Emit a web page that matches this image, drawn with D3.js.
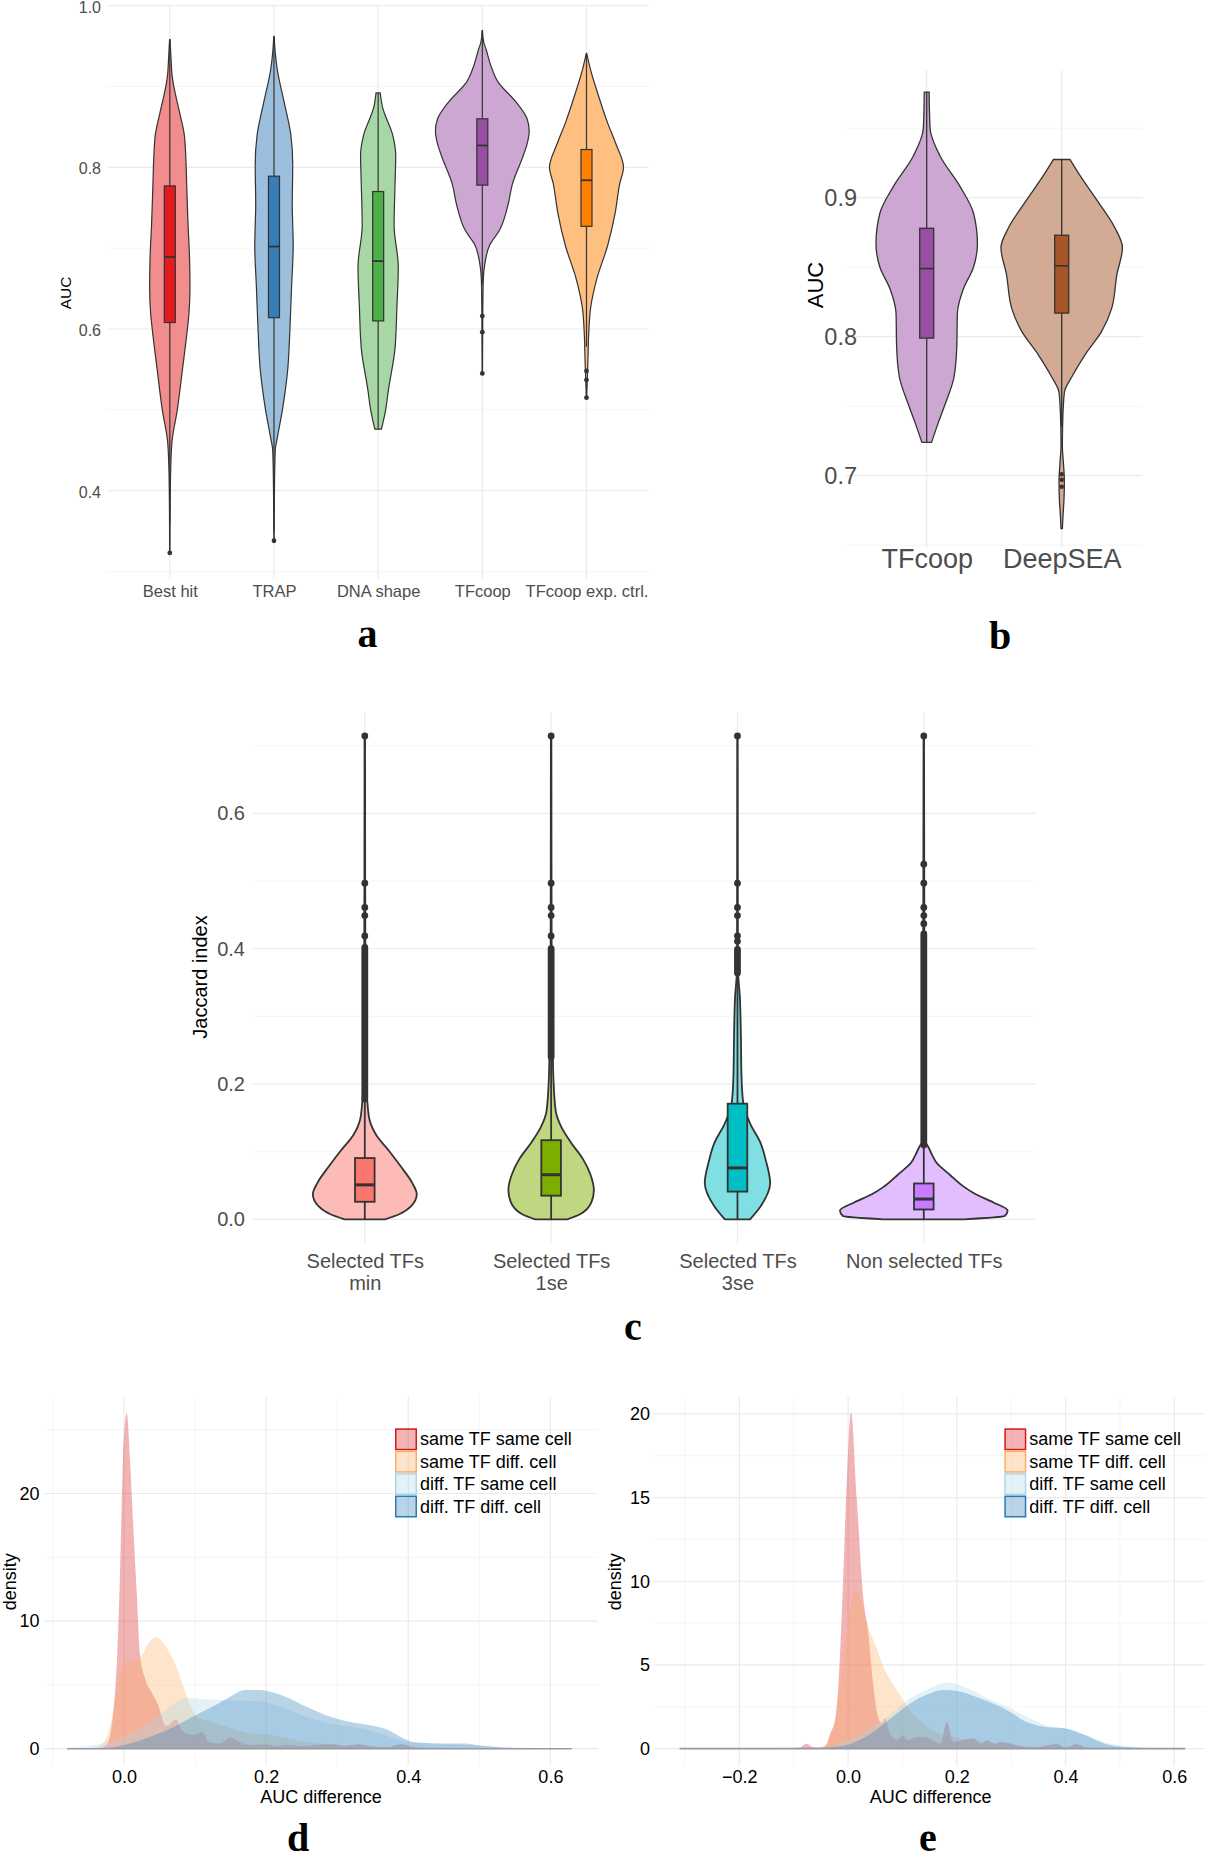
<!DOCTYPE html>
<html><head><meta charset="utf-8">
<script src="https://cdn.jsdelivr.net/npm/d3@7"></script>
<style>body{margin:0;background:#fff}svg{display:block}</style>
</head><body>
<script>
// ---------------- DATA ----------------
// Panel a
const catsA = ["Best hit","TRAP","DNA shape","TFcoop","TFcoop exp. ctrl."];
const colorsA = ["#E41A1C","#377EB8","#4DAF4A","#984EA3","#FF7F00"];
const ticksA = [0.4,0.6,0.8,1.0];
const minorA = [0.3,0.5,0.7,0.9];
// violin profiles: [AUC, relative density]
const violinBestHit = [[0.958,0.005],[0.93,0.03],[0.916,0.045],[0.905,0.07],[0.875,0.18],[0.84,0.31],[0.814,0.34],[0.779,0.36],[0.728,0.39],[0.69,0.42],[0.652,0.43],[0.62,0.41],[0.60,0.375],[0.55,0.27],[0.50,0.16],[0.46,0.045],[0.424,0.018],[0.38,0.008],[0.323,0.004]];
const violinTRAP = [[0.962,0.004],[0.94,0.03],[0.921,0.07],[0.88,0.22],[0.84,0.36],[0.804,0.40],[0.754,0.39],[0.703,0.41],[0.652,0.375],[0.60,0.34],[0.551,0.295],[0.50,0.18],[0.465,0.07],[0.45,0.027],[0.40,0.01],[0.338,0.004]];
const violinDNAshape = [[0.892,0.045],[0.875,0.09],[0.84,0.31],[0.815,0.375],[0.779,0.36],[0.728,0.34],[0.677,0.43],[0.627,0.40],[0.576,0.36],[0.525,0.22],[0.50,0.16],[0.476,0.07]];
const violinTFcoopA = [[0.969,0.004],[0.955,0.03],[0.946,0.08],[0.926,0.18],[0.906,0.33],[0.88,0.73],[0.86,0.955],[0.845,1.0],[0.83,0.96],[0.814,0.87],[0.779,0.64],[0.754,0.55],[0.723,0.375],[0.703,0.15],[0.683,0.06],[0.66,0.02],[0.62,0.01],[0.545,0.004]];
const violinExpCtrl = [[0.941,0.004],[0.92,0.09],[0.895,0.22],[0.855,0.45],[0.83,0.62],[0.80,0.79],[0.78,0.71],[0.743,0.61],[0.703,0.45],[0.662,0.22],[0.627,0.09],[0.591,0.045],[0.56,0.03],[0.515,0.004]];
// boxes: [lower whisker, q1, median, q3, upper whisker]
const boxesA = [[0.36,0.608,0.689,0.777,0.958],[0.35,0.614,0.702,0.789,0.962],[0.476,0.61,0.684,0.77,0.892],[0.655,0.778,0.827,0.86,0.969],[0.578,0.727,0.784,0.822,0.941]];
const outliersA = [[0.323],[0.338],[],[0.616,0.596,0.545],[0.548,0.537,0.515]];

// Panel b
const catsB = ["TFcoop","DeepSEA"];
const colorsB = ["#984EA3","#A65628"];
const ticksB = [0.7,0.8,0.9];
const minorB = [0.65,0.75,0.85,0.95];
const violinTFcoopB = [[0.976,0.04],[0.95,0.055],[0.93,0.22],[0.908,0.55],[0.889,0.77],[0.867,0.835],[0.85,0.77],[0.834,0.60],[0.817,0.505],[0.793,0.495],[0.771,0.45],[0.751,0.30],[0.738,0.19],[0.724,0.08]];
const violinDeepSEA = [[0.9275,0.137],[0.916,0.30],[0.897,0.60],[0.878,0.88],[0.864,1.0],[0.845,0.91],[0.82,0.82],[0.804,0.66],[0.787,0.385],[0.771,0.165],[0.76,0.044],[0.738,0.016],[0.721,0.011],[0.71,0.027],[0.696,0.044],[0.683,0.038],[0.67,0.02],[0.662,0.011]];
const boxesB = [[0.724,0.799,0.849,0.878,0.976],[0.735,0.817,0.851,0.873,0.9275]];
const outliersB = [[],[0.701,0.697,0.692]];

// Panel c
const catsC = ["Selected TFs\nmin","Selected TFs\n1se","Selected TFs\n3se","Non selected TFs"];
const colorsC = ["#F8766D","#7CAE00","#00BFC4","#C77CFF"];
const ticksC = [0.0,0.2,0.4,0.6];
const minorC = [0.1,0.3,0.5,0.7];
const violinMin = [[0.7146,0.003],[0.2,0.01],[0.177,0.028],[0.148,0.055],[0.124,0.14],[0.101,0.29],[0.078,0.43],[0.054,0.565],[0.037,0.62],[0.019,0.55],[0.0076,0.41],[0,0.24]];
const violin1se = [[0.7146,0.003],[0.3,0.008],[0.241,0.02],[0.206,0.028],[0.16,0.055],[0.136,0.124],[0.113,0.24],[0.089,0.38],[0.066,0.47],[0.043,0.51],[0.025,0.48],[0.0076,0.345],[0,0.19]];
const violin3se = [[0.7146,0.003],[0.4,0.005],[0.364,0.008],[0.33,0.028],[0.27,0.041],[0.212,0.048],[0.171,0.07],[0.142,0.15],[0.113,0.275],[0.084,0.345],[0.054,0.39],[0.019,0.275],[0,0.15]];
const violinNonSel = [[0.7146,0.003],[0.115,0.01],[0.11,0.04],[0.095,0.10],[0.084,0.15],[0.066,0.31],[0.048,0.48],[0.037,0.62],[0.025,0.83],[0.013,1.0],[0.005,0.965],[0,0.48]];
const boxesC = [[0,0.026,0.051,0.0906,0.178],[0,0.035,0.066,0.117,0.24],[0,0.041,0.076,0.171,0.364],[0,0.0146,0.03,0.053,0.11]];
const denseOutliersC = [[0.178,0.402],[0.24,0.40],[0.364,0.399],[0.11,0.422]];
const outliersC = [[0.419,0.449,0.461,0.497,0.7146],[0.419,0.449,0.461,0.497,0.7146],[0.411,0.419,0.449,0.461,0.497,0.7146],[0.437,0.449,0.461,0.497,0.525,0.7146]];

// Panels d and e
const legendLabels = ["same TF same cell","same TF diff. cell","diff. TF same cell","diff. TF diff. cell"];
const densColors = ["#D7191C","#FDAE61","#ABD9E9","#2C7BB6"];
const densD_sameTFsameCell = [[-0.08,0],[-0.035,0.05],[-0.025,0.3],[-0.019,1.2],[-0.014,3.5],[-0.010,6.9],[-0.006,13],[-0.004,17.4],[-0.0015,22.6],[0.0038,26.3],[0.0085,22.6],[0.013,17.4],[0.018,12.1],[0.0225,7.4],[0.0296,5.5],[0.039,4.4],[0.0475,3.5],[0.059,1.8],[0.066,2.0],[0.073,2.3],[0.08,1.6],[0.087,1.2],[0.1,1.1],[0.11,1.3],[0.12,0.5],[0.135,0.4],[0.15,0.85],[0.16,0.6],[0.17,0.35],[0.185,0.3],[0.2,0.35],[0.215,0.2],[0.23,0.3],[0.25,0.2],[0.27,0.3],[0.29,0.35],[0.31,0.2],[0.33,0.35],[0.35,0.15],[0.37,0.1],[0.39,0.35],[0.41,0.1],[0.45,0.05],[0.63,0]];
const densD_sameTFdiffCell = [[-0.08,0],[-0.04,0.1],[-0.025,0.8],[-0.015,3],[-0.005,6],[0.004,7.0],[0.015,6.9],[0.025,7.3],[0.035,8.3],[0.046,8.75],[0.056,8.2],[0.07,6.9],[0.084,4.8],[0.094,3.3],[0.105,2.4],[0.123,2.1],[0.15,1.6],[0.177,1.2],[0.204,1.1],[0.231,0.8],[0.258,0.5],[0.31,0.3],[0.37,0.15],[0.45,0.05],[0.63,0]];
const densD_diffTFsameCell = [[-0.08,0.1],[-0.04,0.3],[0,0.9],[0.03,1.8],[0.05,2.6],[0.07,3.5],[0.088,3.97],[0.11,3.9],[0.14,3.8],[0.17,3.75],[0.19,3.7],[0.22,3.3],[0.25,2.6],[0.28,2.1],[0.31,1.8],[0.34,1.5],[0.37,1.0],[0.4,0.5],[0.45,0.35],[0.5,0.25],[0.55,0.1],[0.6,0.02],[0.63,0]];
const densD_diffTFdiffCell = [[-0.08,0],[-0.02,0.1],[0,0.3],[0.04,1.0],[0.07,1.7],[0.1,2.6],[0.125,3.3],[0.15,4.1],[0.17,4.6],[0.19,4.6],[0.21,4.4],[0.23,4.0],[0.26,3.2],[0.285,2.6],[0.31,2.2],[0.34,1.9],[0.37,1.5],[0.39,0.9],[0.41,0.5],[0.45,0.4],[0.48,0.4],[0.5,0.25],[0.53,0.1],[0.58,0.02],[0.63,0]];
const densE_sameTFsameCell = [[-0.31,0],[-0.12,0],[-0.09,0.05],[-0.076,0.3],[-0.065,0.1],[-0.05,0.05],[-0.04,0.2],[-0.033,0.9],[-0.024,1.7],[-0.016,4.9],[-0.0105,8.9],[-0.0037,14.9],[0.0055,20.1],[0.016,14.9],[0.028,9.0],[0.037,6.9],[0.046,3.9],[0.055,1.9],[0.062,1.5],[0.068,1.8],[0.076,1.0],[0.09,0.5],[0.1,0.8],[0.11,0.5],[0.126,0.7],[0.14,0.7],[0.155,0.5],[0.17,0.3],[0.1815,1.6],[0.194,0.4],[0.21,0.5],[0.23,0.6],[0.245,0.3],[0.255,0.5],[0.27,0.3],[0.28,0.4],[0.3,0.3],[0.31,0.2],[0.34,0.05],[0.384,0.3],[0.4,0.05],[0.42,0.3],[0.44,0.05],[0.62,0]];
const densE_sameTFdiffCell = [[-0.31,0],[-0.2,0.02],[-0.1,0.05],[-0.05,0.1],[-0.03,0.9],[-0.01,4.9],[0.0,7.5],[0.0129,9.5],[0.025,8.8],[0.037,7.3],[0.05,6.2],[0.065,4.9],[0.0895,3.5],[0.114,2.3],[0.137,1.5],[0.16,1.0],[0.19,0.7],[0.23,0.5],[0.27,0.3],[0.33,0.15],[0.4,0.05],[0.62,0]];
const densE_diffTFsameCell = [[-0.31,0],[-0.1,0.02],[-0.04,0.1],[0.0,0.5],[0.04,1.2],[0.08,2.1],[0.114,3.0],[0.15,3.6],[0.185,3.95],[0.221,3.6],[0.257,3.0],[0.293,2.5],[0.328,1.9],[0.364,1.4],[0.4,1.2],[0.43,0.9],[0.47,0.4],[0.5,0.2],[0.543,0.06],[0.62,0]];
const densE_diffTFdiffCell = [[-0.31,0],[-0.05,0.05],[-0.029,0.1],[0.006,0.3],[0.042,0.9],[0.078,1.8],[0.114,2.7],[0.15,3.3],[0.175,3.5],[0.2,3.45],[0.243,3.0],[0.293,2.3],[0.328,1.6],[0.364,1.3],[0.4,1.2],[0.436,0.8],[0.472,0.3],[0.507,0.1],[0.56,0.03],[0.62,0]];
const ticksDx = [0.0,0.2,0.4,0.6], minorDx = [-0.1,0.1,0.3,0.5];
const ticksDy = [0,10,20], minorDy = [5,15,25];
const ticksEx = [-0.2,0.0,0.2,0.4,0.6], minorEx = [-0.3,-0.1,0.1,0.3,0.5];
const ticksEy = [0,5,10,15,20], minorEy = [2.5,7.5,12.5,17.5];

// ---------------- DRAWING ----------------
const FONT = '"Liberation Sans", Arial, Helvetica, sans-serif';
const SERIF = '"Liberation Serif", "Times New Roman", serif';
const GMAJ = "#EBEBEB", GMIN = "#F3F3F3";
const svg = d3.select("body").append("svg").attr("width",1205).attr("height",1862);
svg.append("rect").attr("width",1205).attr("height",1862).attr("fill","#fff");

function grid(g,o){
  const {x0,x1,y0,y1,xs,ys,xMajor=[],xMinor=[],yMajor=[],yMinor=[]} = o;
  const h=(vals,col,w)=>g.append("g").selectAll("line").data(vals).join("line")
    .attr("x1",x0).attr("x2",x1).attr("y1",d=>ys(d)).attr("y2",d=>ys(d)).attr("stroke",col).attr("stroke-width",w);
  const v=(vals,col,w)=>g.append("g").selectAll("line").data(vals).join("line")
    .attr("y1",y0).attr("y2",y1).attr("x1",d=>xs(d)).attr("x2",d=>xs(d)).attr("stroke",col).attr("stroke-width",w);
  h(yMinor,GMIN,0.8); v(xMinor,GMIN,0.8); h(yMajor,GMAJ,1.2); v(xMajor,GMAJ,1.2);
}
function leftAxis(g,x,ys,ticks,fmt,size,color){
  const a=g.append("g").attr("transform",`translate(${x},0)`)
    .call(d3.axisLeft(ys).tickValues(ticks).tickFormat(fmt).tickSize(0).tickPadding(0));
  a.select(".domain").remove();
  a.attr("font-family",FONT).attr("font-size",size);
  a.selectAll("text").attr("fill",color);
  return a;
}
function bottomAxis(g,baseline,xs,ticks,fmt,size,color){
  const a=g.append("g").attr("transform",`translate(0,${baseline-0.71*size})`)
    .call(d3.axisBottom(xs).tickValues(ticks).tickFormat(fmt).tickSize(0).tickPadding(0));
  a.select(".domain").remove();
  a.attr("font-family",FONT).attr("font-size",size);
  a.selectAll("text").attr("fill",color);
  return a;
}
function vLabel(g,x,y,txt,size){
  g.append("text").attr("transform",`translate(${x},${y}) rotate(-90)`).attr("text-anchor","middle")
    .attr("font-family",FONT).attr("font-size",size).attr("fill","#000").text(txt);
}
function panelLetter(x,y,t){
  svg.append("text").attr("x",x).attr("y",y).attr("text-anchor","middle").attr("font-family",SERIF)
    .attr("font-weight","bold").attr("font-size",40).attr("fill","#000").text(t);
}
function fade(c,a){const k=d3.rgb(c);return d3.rgb(255-(255-k.r)*a,255-(255-k.g)*a,255-(255-k.b)*a).formatHex();}

function violins(g,o){
  const {cats,xs,ys,ws,profiles,colors,boxes,boxHalf,outliers,dense=null,ptR,lw,medW,alpha=0.5}=o;
  cats.forEach((c,i)=>{
    const cx=xs(c);
    const area=d3.area().curve(d3.curveMonotoneY).y(d=>ys(d[0])).x0(d=>cx-ws(d[1])).x1(d=>cx+ws(d[1]));
    g.append("path").attr("d",area(profiles[i])).attr("fill",fade(colors[i],alpha)).attr("stroke","#333").attr("stroke-width",lw);
    const [lo,q1,med,q3,hi]=boxes[i];
    g.append("line").attr("x1",cx).attr("x2",cx).attr("y1",ys(hi)).attr("y2",ys(q3)).attr("stroke","#333").attr("stroke-width",lw);
    g.append("line").attr("x1",cx).attr("x2",cx).attr("y1",ys(q1)).attr("y2",ys(lo)).attr("stroke","#333").attr("stroke-width",lw);
    g.append("rect").attr("x",cx-boxHalf).attr("width",2*boxHalf).attr("y",ys(q3)).attr("height",ys(q1)-ys(q3))
      .attr("fill",colors[i]).attr("stroke","#333").attr("stroke-width",lw);
    g.append("line").attr("x1",cx-boxHalf).attr("x2",cx+boxHalf).attr("y1",ys(med)).attr("y2",ys(med)).attr("stroke","#333").attr("stroke-width",medW);
    if(dense && dense[i]){
      g.append("line").attr("x1",cx).attr("x2",cx).attr("y1",ys(dense[i][0])).attr("y2",ys(dense[i][1]))
        .attr("stroke","#333").attr("stroke-width",2*ptR).attr("stroke-linecap","round");
    }
    g.append("g").selectAll("circle").data(outliers[i]).join("circle").attr("cx",cx).attr("cy",d=>ys(d)).attr("r",ptR).attr("fill","#333");
  });
}

// ---- Panel a ----
{
  const g=svg.append("g");
  const xs=d3.scalePoint().domain(catsA).range([107.3,649]).padding(0.6);
  const ys=d3.scaleLinear().domain([0.2907,1.0013]).range([579,4.6]);
  const ws=d3.scaleLinear().domain([0,1]).range([0,0.45*xs.step()]);
  grid(g,{x0:107.3,x1:649,y0:4.6,y1:579,xs,ys,xMajor:catsA,yMajor:ticksA,yMinor:minorA});
  violins(g,{cats:catsA,xs,ys,ws,profiles:[violinBestHit,violinTRAP,violinDNAshape,violinTFcoopA,violinExpCtrl],
    colors:colorsA,boxes:boxesA,boxHalf:5.5,outliers:outliersA,ptR:2.4,lw:1.2,medW:1.8});
  const ya=leftAxis(g,101,ys,ticksA,d3.format(".1f"),16,"#4d4d4d");
  ya.selectAll("text").attr("dy","0.4em");
  bottomAxis(g,597,xs,catsA,d=>d,16.5,"#4d4d4d");
  vLabel(g,71,293,"AUC",15.5);
  panelLetter(367.6,647,"a");
}
// ---- Panel b ----
{
  const g=svg.append("g");
  const xs=d3.scalePoint().domain(catsB).range([845.7,1142.7]).padding(0.6);
  const ys=d3.scaleLinear().domain([0.7,0.9]).range([475.7,197.7]);
  const ws=d3.scaleLinear().domain([0,1]).range([0,0.45*xs.step()]);
  grid(g,{x0:845.7,x1:1142.7,y0:70,y1:547,xs,ys,xMajor:catsB,yMajor:ticksB,yMinor:minorB});
  violins(g,{cats:catsB,xs,ys,ws,profiles:[violinTFcoopB,violinDeepSEA],colors:colorsB,boxes:boxesB,boxHalf:7,
    outliers:outliersB,ptR:2.3,lw:1.3,medW:1.6});
  leftAxis(g,857,ys,ticksB,d3.format(".1f"),23.5,"#4d4d4d");
  bottomAxis(g,567.7,xs,catsB,d=>d,27,"#4d4d4d");
  vLabel(g,823,285,"AUC",22);
  panelLetter(1000,649,"b");
}
// ---- Panel c ----
{
  const g=svg.append("g");
  const xs=d3.scalePoint().domain(catsC).range([253,1035.6]).padding(0.6);
  const ys=d3.scaleLinear().domain([-0.0357,0.75]).range([1243.5,712]);
  const ws=d3.scaleLinear().domain([0,1]).range([0,0.45*xs.step()]);
  grid(g,{x0:253,x1:1035.6,y0:712,y1:1243.5,xs,ys,xMajor:catsC,yMajor:ticksC,yMinor:minorC});
  violins(g,{cats:catsC,xs,ys,ws,profiles:[violinMin,violin1se,violin3se,violinNonSel],colors:colorsC,boxes:boxesC,
    boxHalf:9.8,outliers:outliersC,dense:denseOutliersC,ptR:3.4,lw:1.8,medW:3});
  leftAxis(g,245,ys,ticksC,d3.format(".1f"),20,"#4d4d4d");
  const a=bottomAxis(g,1268,xs,catsC,d=>d,20,"#4d4d4d");
  a.selectAll("text").each(function(d){
    const t=d3.select(this); const lines=d.split("\n"); t.text(null);
    lines.forEach((l,k)=>t.append("tspan").attr("x",0).attr("dy",k===0?"0.71em":"1.08em").text(l));
  }).attr("dy",null);
  vLabel(g,207,977,"Jaccard index",20);
  panelLetter(633,1340,"c");
}
// ---- density panels ----
function densityPanel(o){
  const g=svg.append("g");
  const {xr,yr,xd,yd,series,xt,xm,yt,ym,yAxisX,legX,xlabX,ylabX}=o;
  const xs=d3.scaleLinear().domain(xd).range(xr);
  const ys=d3.scaleLinear().domain(yd).range(yr);
  grid(g,{x0:xr[0],x1:xr[1],y0:yr[1],y1:yr[0],xs,ys,xMajor:xt,xMinor:xm,yMajor:yt,yMinor:ym});
  const area=d3.area().curve(d3.curveMonotoneX).x(d=>xs(d[0])).y0(ys(0)).y1(d=>ys(d[1]));
  series.forEach((s,i)=>{
    g.append("path").attr("d",area(s)).attr("fill",densColors[i]).attr("fill-opacity",0.33).attr("stroke","none");
  });
  // common baseline of the densities
  const ext=d3.extent(series.flat(),d=>d[0]);
  g.append("line").attr("x1",xs(ext[0])).attr("x2",xs(ext[1])).attr("y1",ys(0)).attr("y2",ys(0))
    .attr("stroke","#9a98a8").attr("stroke-width",1.6);
  leftAxis(g,yAxisX,ys,yt,d3.format("d"),18,"#000");
  bottomAxis(g,1783,xs,xt,d3.format(".1f"),18,"#000");
  g.append("text").attr("x",xlabX).attr("y",1803).attr("text-anchor","middle").attr("font-family",FONT).attr("font-size",18).text("AUC difference");
  vLabel(g,ylabX,1581.7,"density",18);
  const rowY=[1428.3,1450.7,1473.1,1495.5];
  const lg=g.append("g");
  legendLabels.forEach((l,i)=>{
    lg.append("rect").attr("x",legX+0.75).attr("y",rowY[i]+0.75).attr("width",20.5).attr("height",20.5)
      .attr("fill",densColors[i]).attr("fill-opacity",0.33).attr("stroke",densColors[i]).attr("stroke-width",1.5);
    lg.append("text").attr("x",legX+25).attr("y",rowY[i]+17).attr("font-family",FONT).attr("font-size",18).attr("fill","#000").text(l);
  });
}
densityPanel({xr:[44,598],yr:[1765.3,1396.5],xd:[-0.1126,0.667],yd:[-1.3,27.6],
  series:[densD_sameTFsameCell,densD_sameTFdiffCell,densD_diffTFsameCell,densD_diffTFdiffCell],
  xt:ticksDx,xm:minorDx,yt:ticksDy,ym:minorDy,yAxisX:39.6,legX:395,xlabX:321,ylabX:16});
panelLetter(298,1851,"d");
densityPanel({xr:[654,1205],yr:[1765.4,1396.3],xd:[-0.357,0.6565],yd:[-1.0,21.05],
  series:[densE_sameTFsameCell,densE_sameTFdiffCell,densE_diffTFsameCell,densE_diffTFdiffCell],
  xt:ticksEx,xm:minorEx,yt:ticksEy,ym:minorEy,yAxisX:650,legX:1004.3,xlabX:930.7,ylabX:621});
panelLetter(928,1851,"e");
</script>
</body></html>
